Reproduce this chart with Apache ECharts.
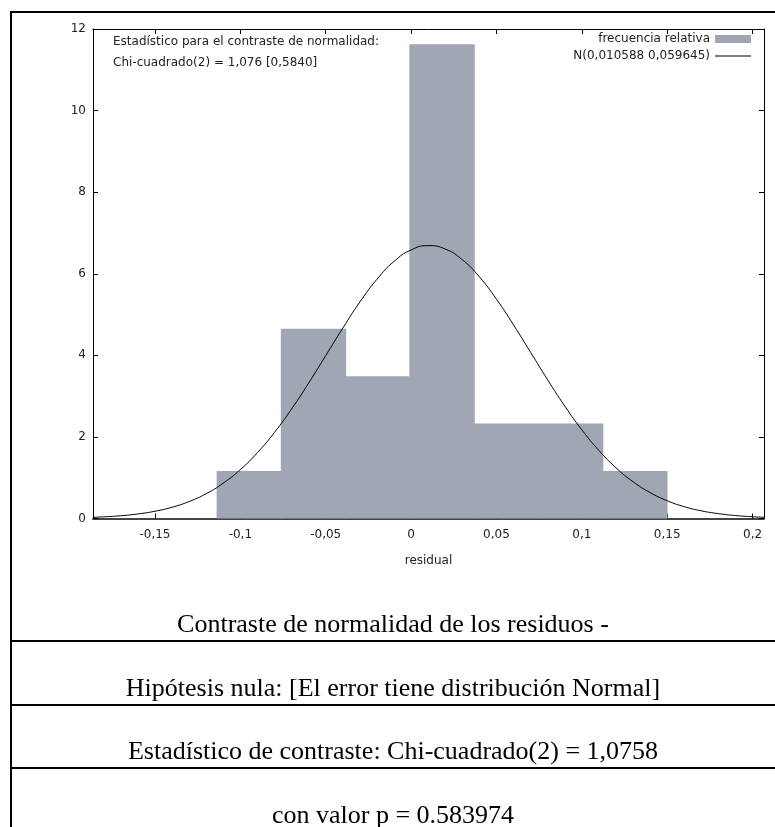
<!DOCTYPE html>
<html>
<head>
<meta charset="utf-8">
<script src="https://cdn.jsdelivr.net/npm/echarts@6/dist/echarts.min.js"></script>
<style>
html,body{margin:0;padding:0;background:#fff;}
#c{width:775px;height:827px;}
</style>
</head>
<body>
<div id="c"></div>
<script>
// ---- data ----
const binEdges = [-0.1139, -0.0763, -0.0386, -0.0010, 0.0367, 0.0743, 0.1120, 0.1496];
const binHeights = [1.163, 4.651, 3.488, 11.628, 2.326, 2.326, 1.163];
const curveX = [-0.1863, -0.18, -0.17, -0.16, -0.15, -0.14, -0.13, -0.12, -0.11, -0.10, -0.09, -0.08, -0.07, -0.06, -0.05, -0.04, -0.03, -0.02, -0.01, 0.00, 0.01, 0.02, 0.03, 0.04, 0.05, 0.06, 0.07, 0.08, 0.09, 0.10, 0.11, 0.12, 0.13, 0.14, 0.15, 0.16, 0.17, 0.18, 0.19, 0.20, 0.2067];
const curveY = [0.029, 0.041, 0.068, 0.112, 0.178, 0.276, 0.416, 0.609, 0.867, 1.199, 1.614, 2.111, 2.685, 3.321, 3.993, 4.668, 5.307, 5.865, 6.302, 6.584, 6.689, 6.606, 6.344, 5.923, 5.377, 4.746, 4.073, 3.399, 2.757, 2.175, 1.668, 1.244, 0.902, 0.636, 0.436, 0.290, 0.188, 0.119, 0.073, 0.043, 0.030];
const xTicks = [-0.15, -0.1, -0.05, 0, 0.05, 0.1, 0.15, 0.2];
const yTicks = [0, 2, 4, 6, 8, 10, 12];
const xRange = [-0.1863, 0.2067];
const histName = 'frecuencia relativa';
const curveName = 'N(0,010588 0,059645)';
const statLines = ['Estadístico para el contraste de normalidad:', 'Chi-cuadrado(2) = 1,076 [0,5840]'];
const tableRows = [
  'Contraste de normalidad de los residuos -',
  'Hipótesis nula: [El error tiene distribución Normal]',
  'Estadístico de contraste: Chi-cuadrado(2) = 1,0758',
  'con valor p = 0.583974'
];
// -------------------------------------

const FONT = 'DejaVu Sans';
const histData = binHeights.map((h, i) => [binEdges[i], binEdges[i + 1], h]);
const curveData = curveX.map((x, i) => [x, curveY[i]]);
const fmt = v => String(v).replace('.', ',');

const chart = echarts.init(document.getElementById('c'), null, {renderer: 'canvas'});

const rowY = [625, 689, 752, 816];
const lineY = [641, 705, 768];
const graphic = [
  {type: 'line', shape: {x1: 10, y1: 12, x2: 775, y2: 12}, style: {stroke: '#000', lineWidth: 2}},
  {type: 'line', shape: {x1: 11, y1: 11, x2: 11, y2: 827}, style: {stroke: '#000', lineWidth: 2}},
  {type: 'text', left: 113, top: 36, style: {text: statLines[0], font: '12px "DejaVu Sans"', fill: '#222'}},
  {type: 'text', left: 113, top: 57, style: {text: statLines[1], font: '12px "DejaVu Sans"', fill: '#222'}}
];
lineY.forEach(y => graphic.push({type: 'line', shape: {x1: 10, y1: y, x2: 775, y2: y}, style: {stroke: '#000', lineWidth: 2}}));
tableRows.forEach((t, i) => graphic.push({
  type: 'text', x: 393, y: rowY[i],
  style: {text: t, font: '26px "Liberation Serif"', fill: '#000', align: 'center', verticalAlign: 'middle'}
}));

chart.setOption({
  animation: false,
  backgroundColor: '#fff',
  textStyle: {fontFamily: FONT},
  grid: {left: 93, top: 29, right: 11, bottom: 308.5},
  legend: {
    orient: 'vertical', right: 24, top: 33, align: 'right', padding: 0,
    itemWidth: 36, itemHeight: 8, itemGap: 5,
    textStyle: {fontFamily: FONT, fontSize: 12, color: '#222'},
    data: [
      {name: histName, icon: 'rect'},
      {name: curveName, icon: 'path://M0,0L36,0L36,1.2L0,1.2Z', itemStyle: {color: '#000'}}
    ]
  },
  xAxis: [{
    type: 'value', min: xRange[0], max: xRange[1], position: 'bottom',
    name: 'residual', nameLocation: 'middle', nameGap: 36,
    nameTextStyle: {fontFamily: FONT, fontSize: 12, color: '#222'},
    axisLine: {show: true, onZero: false, lineStyle: {color: '#444', width: 2}},
    axisTick: {show: true, inside: true, length: 5, customValues: xTicks, lineStyle: {color: '#000'}},
    axisLabel: {show: true, customValues: xTicks, formatter: fmt, margin: 10, fontFamily: FONT, fontSize: 12, color: '#222'},
    splitLine: {show: false}
  }, {
    type: 'value', min: xRange[0], max: xRange[1], position: 'top',
    axisLine: {show: true, onZero: false, lineStyle: {color: '#000', width: 1}},
    axisTick: {show: true, inside: true, length: 5, customValues: xTicks, lineStyle: {color: '#000'}},
    axisLabel: {show: false},
    splitLine: {show: false}
  }],
  yAxis: [{
    type: 'value', min: 0, max: 12, interval: 2, position: 'left',
    axisLine: {show: true, onZero: false, lineStyle: {color: '#000', width: 1}},
    axisTick: {show: true, inside: true, length: 5, lineStyle: {color: '#000'}},
    axisLabel: {show: true, margin: 7, fontFamily: FONT, fontSize: 12, color: '#222', formatter: v => yTicks.includes(v) ? fmt(v) : ''},
    splitLine: {show: false}
  }, {
    type: 'value', min: 0, max: 12, interval: 2, position: 'right',
    axisLine: {show: true, onZero: false, lineStyle: {color: '#000', width: 1}},
    axisTick: {show: true, inside: true, length: 5, lineStyle: {color: '#000'}},
    axisLabel: {show: false},
    splitLine: {show: false}
  }],
  series: [{
    name: histName, type: 'custom', xAxisIndex: 0, yAxisIndex: 0,
    itemStyle: {color: '#a0a6b4'},
    encode: {x: [0, 1], y: 2},
    data: histData,
    renderItem: function (params, api) {
      const p0 = api.coord([api.value(0), 0]);
      const p1 = api.coord([api.value(1), api.value(2)]);
      return {
        type: 'rect',
        shape: {x: p0[0], y: p1[1], width: p1[0] - p0[0] + 1, height: p0[1] - p1[1]},
        style: {fill: '#a0a6b4'}
      };
    },
    z: 1
  }, {
    name: curveName, type: 'line', xAxisIndex: 0, yAxisIndex: 0,
    data: curveData, smooth: true, symbol: 'none', showSymbol: false,
    lineStyle: {color: '#000', width: 1}, itemStyle: {color: '#000'},
    z: 3
  }],
  graphic: graphic
});
</script>
</body>
</html>
